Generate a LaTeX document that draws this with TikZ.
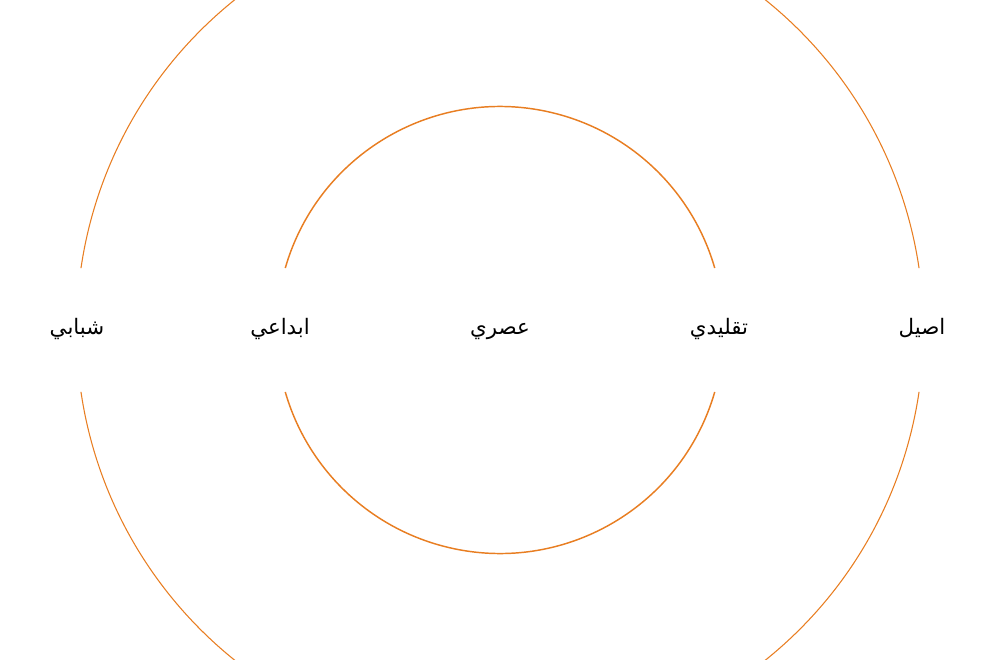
\documentclass[tikz,border=0pt]{standalone}
\usepackage{fontspec}
\TeXXeTstate=1
\newfontfamily\arabicfont[Script=Arabic]{DejaVu Sans}
\definecolor{ringorange}{RGB}{232,126,34}
\tikzset{every picture/.style={line width=0.75pt}}
\tikzset{
  ringlabel/.style={font=\arabicfont\fontsize{16}{19}\selectfont, text=black, inner sep=0pt, anchor=base},
  outerring/.style={color=ringorange, line width=0.8pt},
  innerring/.style={color=ringorange, line width=1.1pt}
}

\begin{document}
\begin{tikzpicture}[x=0.75pt,y=0.75pt,yscale=-1,xscale=1]
		\useasboundingbox (0,0) rectangle (1000,660);
		\clip (0,0) rectangle (1000,660);

		\coordinate (centre) at (500,330);

		%outer ring, broken at left and right
		\draw [outerring] (centre) ++(8.4:423.6) arc [start angle=8.4, end angle=171.6, radius=423.6];
		\draw [outerring] (centre) ++(188.4:423.6) arc [start angle=188.4, end angle=351.6, radius=423.6];
		%inner ring
		\draw [innerring] (centre) ++(16.1:223.5) arc [start angle=16.1, end angle=163.9, radius=223.5];
		\draw [innerring] (centre) ++(196.1:223.5) arc [start angle=196.1, end angle=343.9, radius=223.5];

		\node [ringlabel] (shababi) at (77,334) {\beginR شبابي\endR};
		\node [ringlabel] (ibdai) at (280,334) {\beginR ابداعي\endR};
		\node [ringlabel] (asri) at (500,334) {\beginR عصري\endR};
		\node [ringlabel] (taqlidi) at (719,334) {\beginR تقليدي\endR};
		\node [ringlabel] (asil) at (922,334) {\beginR اصيل\endR};

\end{tikzpicture}
\end{document}
